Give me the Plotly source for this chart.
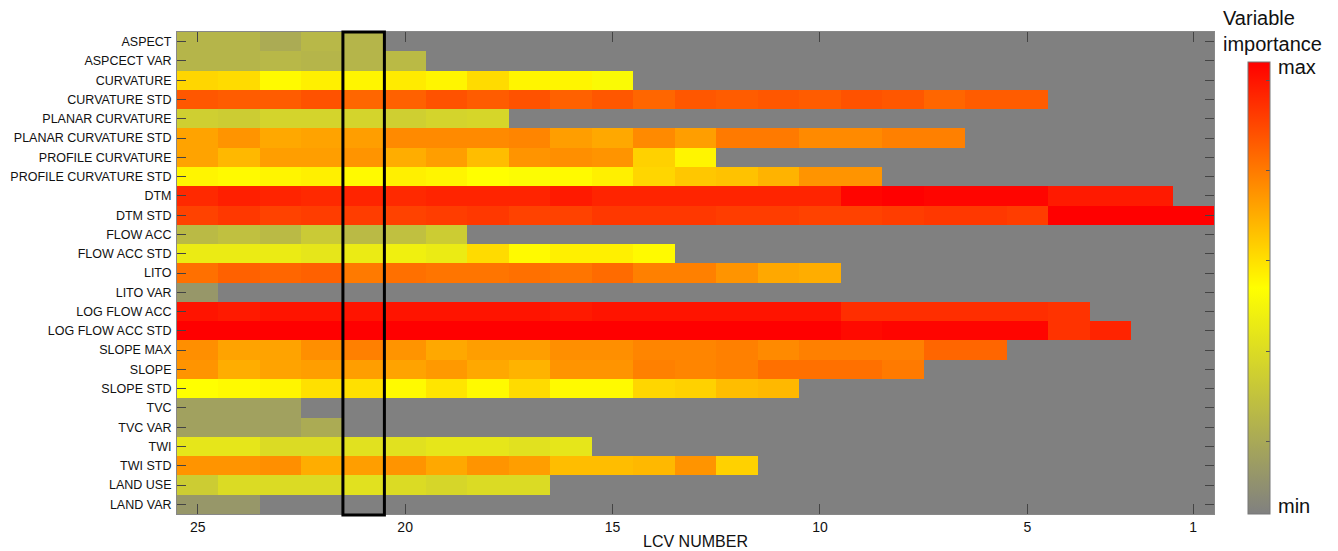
import plotly.graph_objects as go

# LCV numbers (columns), shown from 25 down to 1
lcv_numbers = list(range(25, 0, -1))

# Variable names (rows, top to bottom)
variables = ["ASPECT", "ASPCECT VAR", "CURVATURE", "CURVATURE STD", "PLANAR CURVATURE",
             "PLANAR CURVATURE STD", "PROFILE CURVATURE", "PROFILE CURVATURE STD", "DTM",
             "DTM STD", "FLOW ACC", "FLOW ACC STD", "LITO", "LITO VAR", "LOG FLOW ACC",
             "LOG FLOW ACC STD", "SLOPE MAX", "SLOPE", "SLOPE STD", "TVC", "TVC VAR",
             "TWI", "TWI STD", "LAND USE", "LAND VAR"]

# Normalised importance (0 = min, 1 = max), values listed for LCV 25, 24, 23, ...
aspect = [0.21, 0.21, 0.17, 0.22, 0.21]
aspect_var = [0.21, 0.21, 0.22, 0.21, 0.21, 0.23]
curvature = [0.58, 0.57, 0.51, 0.53, 0.52, 0.54, 0.52, 0.57, 0.52, 0.52, 0.48]
curvature_std = [0.83, 0.82, 0.82, 0.84, 0.80, 0.81, 0.84, 0.82, 0.84, 0.81, 0.83,
                 0.80, 0.83, 0.82, 0.83, 0.82, 0.84, 0.83, 0.80, 0.82, 0.82]
planar_curvature = [0.31, 0.30, 0.33, 0.33, 0.33, 0.31, 0.33, 0.34]
planar_curvature_std = [0.68, 0.71, 0.67, 0.68, 0.69, 0.73, 0.73, 0.73, 0.74, 0.69,
                        0.67, 0.73, 0.69, 0.76, 0.76, 0.73, 0.73, 0.75, 0.75]
profile_curvature = [0.68, 0.64, 0.69, 0.69, 0.71, 0.66, 0.69, 0.63, 0.71, 0.72,
                     0.71, 0.59, 0.52]
profile_curvature_std = [0.52, 0.51, 0.52, 0.53, 0.51, 0.53, 0.52, 0.50, 0.49, 0.51,
                         0.53, 0.58, 0.61, 0.62, 0.65, 0.71, 0.71]
dtm = [0.92, 0.94, 0.93, 0.92, 0.93, 0.92, 0.93, 0.93, 0.93, 0.95, 0.93, 0.93,
       0.93, 0.93, 0.93, 0.93, 0.99, 1.00, 0.99, 0.99, 0.99, 0.95, 0.95, 0.95]
dtm_std = [0.87, 0.89, 0.87, 0.88, 0.88, 0.87, 0.88, 0.89, 0.87, 0.87, 0.89, 0.89,
           0.89, 0.88, 0.88, 0.87, 0.87, 0.88, 0.89, 0.89, 0.88, 1.00, 1.00, 1.00, 1.00]
flow_acc = [0.23, 0.25, 0.23, 0.29, 0.23, 0.25, 0.30]
flow_acc_std = [0.42, 0.42, 0.42, 0.40, 0.42, 0.44, 0.42, 0.57, 0.51, 0.53, 0.53, 0.51]
lito = [0.78, 0.81, 0.80, 0.81, 0.76, 0.78, 0.77, 0.77, 0.78, 0.77, 0.79, 0.75,
        0.75, 0.71, 0.67, 0.66]
lito_var = [0.09]
log_flow_acc = [0.96, 0.95, 0.96, 0.96, 0.96, 0.96, 0.96, 0.96, 0.96, 0.95, 0.96,
                0.96, 0.96, 0.96, 0.96, 0.96, 0.91, 0.91, 0.91, 0.91, 0.91, 0.90]
log_flow_acc_std = [1.00, 1.00, 1.00, 1.00, 1.00, 1.00, 1.00, 1.00, 1.00, 1.00, 1.00,
                    1.00, 1.00, 1.00, 1.00, 1.00, 0.98, 0.99, 0.99, 0.99, 0.99, 0.90, 0.93]
slope_max = [0.72, 0.68, 0.68, 0.72, 0.75, 0.71, 0.67, 0.69, 0.69, 0.72, 0.72, 0.74,
             0.74, 0.75, 0.73, 0.75, 0.75, 0.75, 0.80, 0.80]
slope = [0.71, 0.66, 0.68, 0.69, 0.69, 0.68, 0.70, 0.67, 0.65, 0.71, 0.71, 0.75,
         0.74, 0.75, 0.78, 0.78, 0.78, 0.76]
slope_std = [0.50, 0.51, 0.52, 0.56, 0.56, 0.51, 0.55, 0.51, 0.57, 0.51, 0.51, 0.58,
             0.59, 0.63, 0.64]
tvc = [0.13, 0.13, 0.13]
tvc_var = [0.13, 0.13, 0.13, 0.17]
twi = [0.40, 0.40, 0.36, 0.36, 0.38, 0.38, 0.40, 0.40, 0.38, 0.40]
twi_std = [0.71, 0.71, 0.72, 0.66, 0.69, 0.71, 0.67, 0.71, 0.69, 0.63, 0.63, 0.64,
           0.71, 0.59]
land_use = [0.30, 0.36, 0.36, 0.36, 0.38, 0.36, 0.34, 0.36, 0.36]
land_var = [0.09, 0.09]

rows = [aspect, aspect_var, curvature, curvature_std, planar_curvature,
        planar_curvature_std, profile_curvature, profile_curvature_std, dtm, dtm_std,
        flow_acc, flow_acc_std, lito, lito_var, log_flow_acc, log_flow_acc_std,
        slope_max, slope, slope_std, tvc, tvc_var, twi, twi_std, land_use, land_var]

z = [r + [None] * (len(lcv_numbers) - len(r)) for r in rows]

highlight_lcv = 21

colorscale = [[0.0, "rgb(128,128,128)"], [0.5, "rgb(255,255,0)"], [1.0, "rgb(255,0,0)"]]

FONT = "Liberation Sans, Arial, sans-serif"

fig = go.Figure()
fig.add_trace(go.Heatmap(
    z=z, x=lcv_numbers, y=variables,
    zmin=0, zmax=1, colorscale=colorscale, hoverongaps=False,
    xgap=0, ygap=0,
    colorbar=dict(
        x=1.0328, xanchor="left", y=0, yanchor="bottom",
        len=0.937, lenmode="fraction", thickness=22, thicknessmode="pixels",
        outlinewidth=1, outlinecolor="#777777",
        tickmode="array",
        tickvals=[0.16, 0.36, 0.56, 0.76, 0.96],
        showticklabels=False,
        ticks="inside", ticklen=4, tickcolor="#555555",
        xpad=0, ypad=0,
    ),
))

fig.add_shape(type="rect", xref="x", yref="paper",
              x0=highlight_lcv + 0.5, x1=highlight_lcv - 0.5, y0=-0.002, y1=1.0,
              line=dict(color="black", width=3), fillcolor="rgba(0,0,0,0)")

fig.add_annotation(text="Variable<br>importance", xref="paper", yref="paper",
                   x=1.0068, y=1.056, xanchor="left", yanchor="top", showarrow=False,
                   font=dict(family=FONT, size=20, color="#111111"),
                   align="left")
fig.add_annotation(text="max", xref="paper", yref="paper",
                   x=1.0598, y=0.927, xanchor="left", yanchor="middle", showarrow=False,
                   font=dict(family=FONT, size=20, color="#111111"))
fig.add_annotation(text="min", xref="paper", yref="paper",
                   x=1.0598, y=0.0166, xanchor="left", yanchor="middle", showarrow=False,
                   font=dict(family=FONT, size=20, color="#111111"))

fig.update_layout(
    template="none",
    width=1338, height=551,
    margin=dict(l=169, r=132, t=24, b=45),
    paper_bgcolor="white", plot_bgcolor="rgb(128,128,128)",
    font=dict(family=FONT, color="#111111"),
    xaxis=dict(
        automargin=False,
        autorange=False, range=[25.5, 0.5],
        tickmode="array", tickvals=[25, 20, 15, 10, 5, 1],
        ticktext=["25", "20", "15", "10", "5", "1"],
        ticks="inside", ticklen=10, tickcolor="#444444", tickwidth=1,
        showline=True, linecolor="#888888", linewidth=1, mirror="ticks",
        showgrid=False, zeroline=False,
        tickfont=dict(size=14),
        title=dict(text="LCV NUMBER", font=dict(size=16), standoff=2),
    ),
    yaxis=dict(
        automargin=False,
        autorange="reversed",
        ticks="inside", ticklen=9, tickcolor="#444444", tickwidth=1,
        showline=True, linecolor="#888888", linewidth=1, mirror="ticks",
        showgrid=False, zeroline=False,
        tickfont=dict(size=12.5), ticklabelstandoff=2,
    ),
)

fig.write_html("out.html")
